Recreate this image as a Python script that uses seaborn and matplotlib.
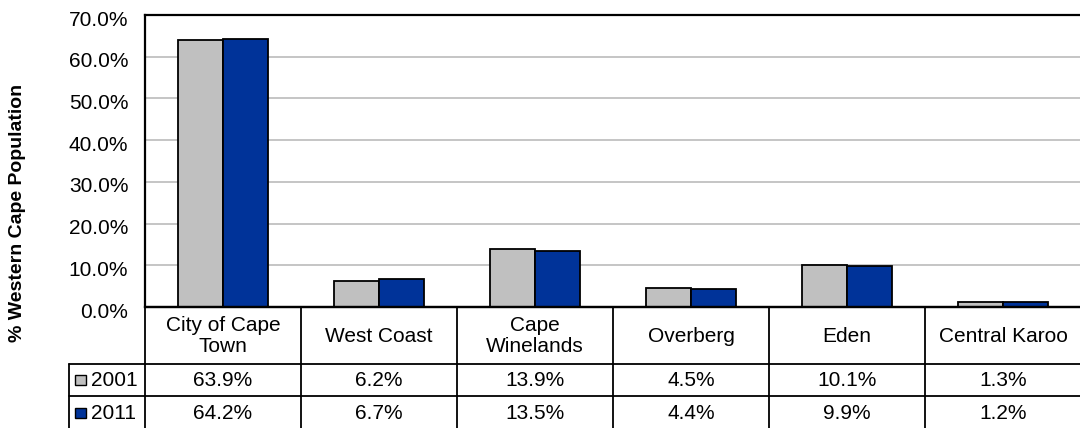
import matplotlib
matplotlib.use("Agg")
import matplotlib.pyplot as plt
import matplotlib.transforms as mtransforms
from matplotlib.patches import Rectangle
import seaborn as sns
import pandas as pd

# ---- data ----
regions = ["City of Cape\nTown", "West Coast", "Cape\nWinelands", "Overberg", "Eden", "Central Karoo"]
years = ["2001", "2011"]
share_2001 = [63.9, 6.2, 13.9, 4.5, 10.1, 1.3]
share_2011 = [64.2, 6.7, 13.5, 4.4, 9.9, 1.2]
y_ticks = [0, 10, 20, 30, 40, 50, 60, 70]
y_label = "% Western Cape Population"

colors = ["#C0C0C0", "#003399"]

df = pd.DataFrame({
    "region": regions * 2,
    "year": [years[0]] * len(regions) + [years[1]] * len(regions),
    "share": share_2001 + share_2011,
})

sns.set_theme(style="white")
plt.rcParams["font.family"] = ["Liberation Sans", "DejaVu Sans"]
plt.rcParams["text.color"] = "black"
plt.rcParams["ytick.color"] = "black"
FS = 15

W, H = 1080, 428
fig = plt.figure(figsize=(W / 100, H / 100), dpi=100)

# pixel layout
left_px, right_px = 145, 1081
top_px, zero_px, table_bottom_px = 15, 307, 429
cat_w = (right_px - left_px) / len(regions)

ax = fig.add_axes([left_px / W, (H - zero_px) / H, (right_px - left_px) / W, (zero_px - top_px) / H])
sns.barplot(data=df, x="region", y="share", hue="year", order=regions, hue_order=years,
            palette=colors, saturation=1, width=0.58, edgecolor="black", linewidth=1.3,
            legend=False, ax=ax)
ax.set_xlim(-0.5, len(regions) - 0.5)
ax.set_ylim(0, 70)
ax.set_yticks(y_ticks)
ax.set_yticklabels([f"{v:.1f}%" for v in y_ticks], fontsize=FS, color="black")
ax.tick_params(axis="y", length=0, pad=12, colors="black")
shift = mtransforms.ScaledTranslation(0, -3 / 100, fig.dpi_scale_trans)
for lbl in ax.get_yticklabels():
    lbl.set_transform(lbl.get_transform() + shift)
ax.set_xticks([])
ax.set_xlabel("")
ax.set_ylabel("")
ax.yaxis.grid(True, color="#C0C0C0", linewidth=1.3)
ax.set_axisbelow(True)
for s in ["top", "left", "bottom"]:
    ax.spines[s].set_color("black")
    ax.spines[s].set_linewidth(1.6)
ax.spines["right"].set_visible(False)

# ---- data table ----
tab_h = table_bottom_px - zero_px
tax = fig.add_axes([left_px / W, (H - table_bottom_px) / H, (right_px - left_px) / W, tab_h / H])
tax.set_xlim(-0.5, len(regions) - 0.5)
tax.set_ylim(tab_h, 0)
tax.axis("off")

def px2x(px):
    return -0.5 + (px - left_px) / cat_w

row_edges = [0, 56.5, 89, tab_h]
lc = "black"
lw = 1.3
legend_left = px2x(69)
# horizontal lines
tax.plot([-0.5, len(regions) - 0.5], [row_edges[0]] * 2, color=lc, lw=1.6, clip_on=False)
for r in row_edges[1:]:
    tax.plot([legend_left, len(regions) - 0.5], [r, r], color=lc, lw=lw, clip_on=False)
# vertical lines
for i in range(len(regions) + 1):
    tax.plot([i - 0.5, i - 0.5], [0, tab_h], color=lc, lw=lw, clip_on=False)
tax.plot([legend_left, legend_left], [row_edges[1], tab_h], color=lc, lw=lw, clip_on=False)

# header labels
for i, name in enumerate(regions):
    tax.text(i, (row_edges[0] + row_edges[1]) / 2 + 1, name, ha="center", va="center",
             fontsize=FS, linespacing=1.12, color="black", clip_on=False)
# value rows
for k, (yr, vals) in enumerate(zip(years, [share_2001, share_2011])):
    yc = (row_edges[k + 1] + row_edges[k + 2]) / 2
    for i, v in enumerate(vals):
        tax.text(i, yc + 1, f"{v:.1f}%", ha="center", va="center", fontsize=FS,
                 color="black", clip_on=False)
    sq_w, sq_h = 11, 10
    tax.add_patch(Rectangle((px2x(75), yc - sq_h / 2), sq_w / cat_w, sq_h, facecolor=colors[k],
                            edgecolor="black", lw=1.0, clip_on=False))
    tax.text(px2x(91), yc + 1, yr, ha="left", va="center", fontsize=FS, color="black",
             clip_on=False)

fig.text(18 / W, 1 - 213 / H, y_label, rotation=90, ha="center", va="center",
         fontsize=14, fontweight="bold", color="black")

fig.savefig("out.png", dpi=100)
